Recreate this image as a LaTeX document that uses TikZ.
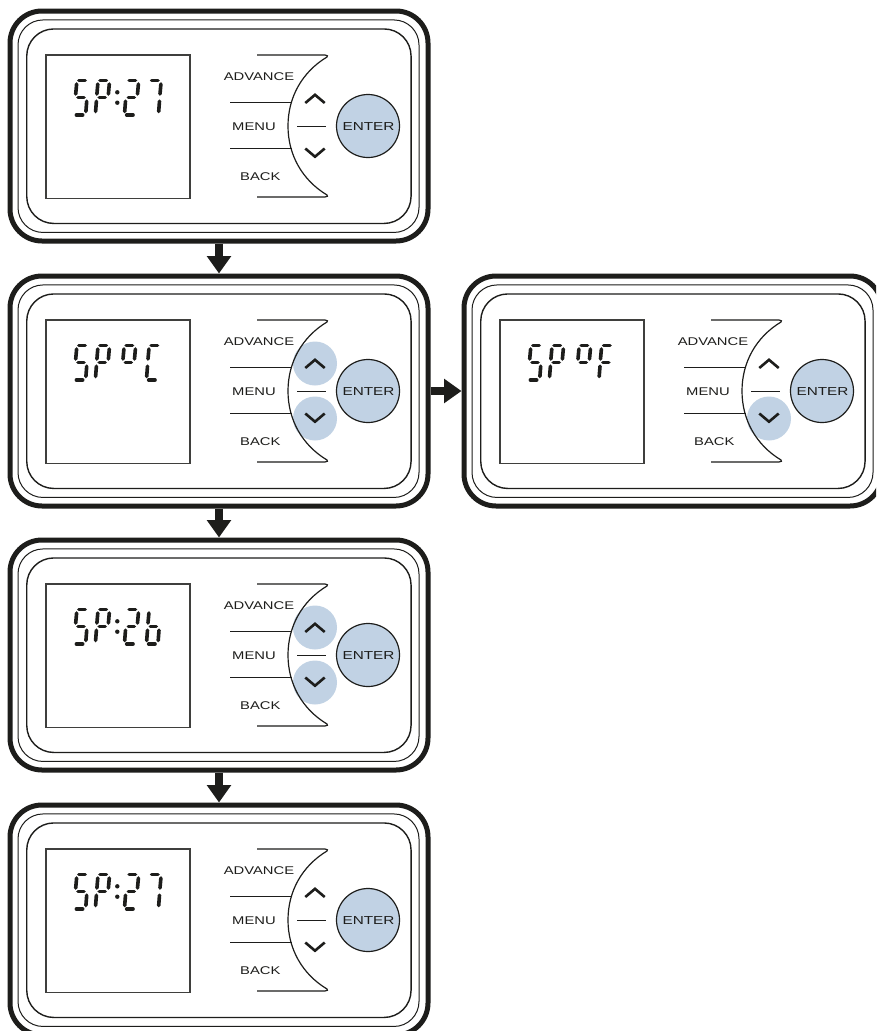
\documentclass[tikz,border=0pt]{standalone}
\usepackage{fontspec}
\newfontfamily\widefont[FakeStretch=1.32]{Liberation Sans}
\usetikzlibrary{arrows.meta}
\definecolor{ink}{HTML}{1D1D1B}
\definecolor{btn}{HTML}{C1D2E4}
\tikzset{
  outerframe/.style={draw=ink,line width=5pt,rounded corners=32pt,minimum width=418pt,minimum height=230pt,inner sep=0pt},
  midframe/.style={draw=ink,line width=1pt,rounded corners=25pt,minimum width=401pt,minimum height=212.5pt,inner sep=0pt},
  innerframe/.style={draw=ink,line width=1.4pt,rounded corners=27pt,minimum width=384.3pt,minimum height=194.5pt,inner sep=0pt},
  screenbox/.style={draw=ink!85,line width=1.2pt,minimum width=144pt,minimum height=143.5pt,inner sep=0pt},
  thin/.style={draw=ink,line width=1.2pt},
  chev/.style={draw=ink,line width=2.6pt},
  softbtn/.style={fill=btn,draw=none},
  enterbtn/.style={fill=btn,draw=ink,line width=1.2pt,circle,minimum size=63pt,inner sep=0pt},
  lbl/.style={inner sep=0pt,font=\widefont\fontsize{11.2}{12}\selectfont,text=ink},
  seg/.style={draw=ink,line width=3.6pt,line cap=round},
  flow/.style={draw=ink,line width=8.5pt,-{Triangle[length=17.5pt,width=23.5pt]}},
}
% seven segment display: x0 = left edge at the bottom line, slant 2.5, width 11.5
\newcommand{\dgt}[1]{\draw[seg] ({#1+4.6},80.6) -- ({#1+11},80.6);}
\newcommand{\dgul}[1]{\draw[seg] ({#1+2.4},84) -- ({#1+1.5},94);}
\newcommand{\dgur}[1]{\draw[seg] ({#1+13.9},84) -- ({#1+13},94);}
\newcommand{\dgm}[1]{\draw[seg] ({#1+3.8},97.6) -- ({#1+9.8},97.6);}
\newcommand{\dgll}[1]{\draw[seg] ({#1+1},101.2) -- ({#1+0.2},111.5);}
\newcommand{\dglr}[1]{\draw[seg] ({#1+12.5},101.2) -- ({#1+11.7},111.5);}
\newcommand{\dgb}[1]{\draw[seg] ({#1+2.2},115) -- ({#1+8.5},115);}
\newcommand{\sevseg}[2]{\foreach \s in {#2}{\csname dg\s\endcsname{#1}}}
\newcommand{\dispS}{\sevseg{74.2}{t,ul,m,lr,b}\sevseg{95.4}{t,ul,ur,m,ll}}
\newcommand{\dispColon}{\fill[ink] (117.3,92.3) circle (2.2pt) (117.3,102.7) circle (2.2pt);}
% #1 name, #2 x shift, #3 y shift, #4 soft buttons, #5 display
\newcommand{\devpanel}[5]{%
  \begin{scope}[shift={(#2,#3)}]
    \node[outerframe] (#1) at (219,126) {};
    \node[midframe] (#1mid) at (218.5,126.2) {};
    \node[innerframe] (#1inner) at (218.9,126.2) {};
    \node[screenbox] (#1screen) at (118,126.7) {};
    #4
    \draw[thin] (257,55) -- (325,55) .. controls (327.6,55) and (328.2,56.4) .. (327,57)
       .. controls (302.2,71.9) and (288,97.1) .. (288,126)
       .. controls (288,154.9) and (302.2,180.1) .. (327,195)
       .. controls (328.2,195.6) and (327.6,197) .. (325,197) -- (257,197);
    \draw[thin] (230,102.3) -- (292,102.3);
    \draw[thin] (230,148.7) -- (292,148.7);
    \draw[draw=ink,line width=1pt] (297,126.4) -- (326,126.4);
    \draw[chev] (305.3,103) -- (315,94.8) -- (324.7,103);
    \draw[chev] (305.3,148.5) -- (315,156.7) -- (324.7,148.5);
    \node[enterbtn] (#1enter) at (368,126) {};
    \node[lbl] (#1entertext) at (368.5,126.6) {\fontsize{11.6}{12}\selectfont ENTER};
    \node[lbl] (#1adv) at (259,76.6) {ADVANCE};
    \node[lbl] (#1menu) at (254,126.6) {MENU};
    \node[lbl] (#1back) at (260.3,176.6) {BACK};
    #5
  \end{scope}}
\newcommand{\upsoft}{\fill[softbtn] (315,98.5) circle (22pt);}
\newcommand{\downsoft}{\fill[softbtn] (315,153.5) circle (22pt);}
\begin{document}
\begin{tikzpicture}[x=1pt,y=-1pt]
  \useasboundingbox (0,0) rectangle (876,1031);
  \clip (0,0) rectangle (876,1031);
  \fill[white] (0,0) rectangle (876,1031);
  \devpanel{pa}{0}{0}{}{\dispS\dispColon\sevseg{124.5}{t,ur,m,ll,b}\sevseg{147}{t,ur,lr}}
  \devpanel{pb}{0}{265}{\upsoft\downsoft}{\dispS\sevseg{121.5}{t,ul,ur,m}\sevseg{146.5}{t,ul,ll,b}}
  \devpanel{pc}{0}{529}{\upsoft\downsoft}{\dispS\dispColon\sevseg{124.5}{t,ur,m,ll,b}\sevseg{146.5}{ul,m,ll,lr,b}}
  \devpanel{pd}{0}{794}{}{\dispS\dispColon\sevseg{124.5}{t,ur,m,ll,b}\sevseg{147}{t,ur,lr}}
  \devpanel{pe}{454}{265}{\downsoft}{\dispS\sevseg{122.5}{t,ul,ur,m}\sevseg{145}{t,ul,m,ll}}
  \draw[flow] (pa.south) -- (pb.north);
  \draw[flow] (pb.south) -- (pc.north);
  \draw[flow] (pc.south) -- (pd.north);
  \draw[flow] (pb.east) -- (pe.west);
\end{tikzpicture}
\end{document}
